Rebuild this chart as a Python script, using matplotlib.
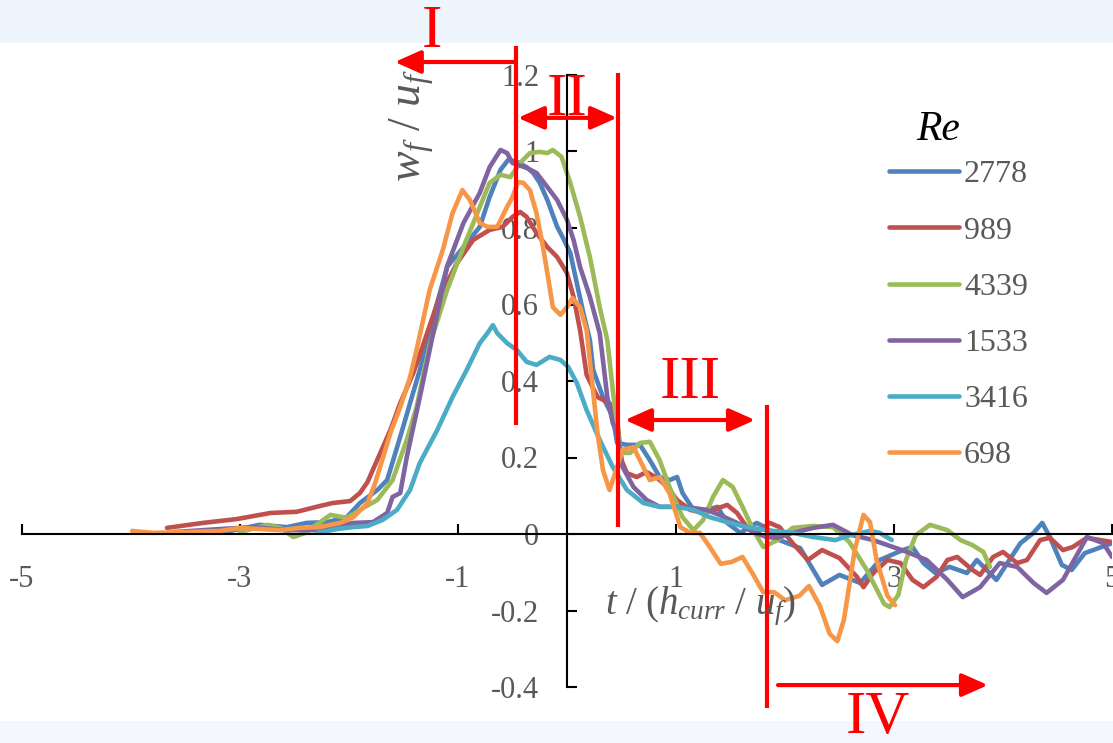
import matplotlib
matplotlib.use("Agg")
import matplotlib.pyplot as plt
from matplotlib.patches import Rectangle

plt.rcParams['font.family'] = ['Liberation Serif', 'DejaVu Serif']
plt.rcParams['mathtext.fontset'] = 'custom'
plt.rcParams['mathtext.rm'] = 'Liberation Serif'
plt.rcParams['mathtext.it'] = 'Liberation Serif:italic'
plt.rcParams['axes.unicode_minus'] = False

# Re values, in legend order
re_labels = ["2778", "989", "4339", "1533", "3416", "698"]
colors = ["#4F81BD", "#C0504D", "#9BBB59", "#8064A2", "#4BACC6", "#F79646"]

# Re = 2778
x_2778 = [-3.37, -3.09, -2.82, -2.57, -2.39, -2.20, -2.02, -1.90, -1.74, -1.65, -1.53, -1.44, -1.35, -1.26,
          -1.10, -0.95, -0.80, -0.71, -0.61, -0.54, -0.46, -0.37, -0.31, -0.25, -0.18, -0.09, -0.04, 0.03,
          0.09, 0.15, 0.21, 0.24, 0.33, 0.42, 0.46, 0.55, 0.67, 0.76, 0.85, 0.94, 1.01, 1.06, 1.16, 1.28,
          1.38, 1.47, 1.59, 1.74, 1.83, 1.95, 2.14, 2.34, 2.50, 2.69, 2.87, 3.08, 3.17, 3.27, 3.38, 3.51,
          3.67, 3.76, 3.85, 3.94, 4.04, 4.16, 4.28, 4.36, 4.43, 4.54, 4.63, 4.75, 5.0]
y_2778 = [0.003, 0.008, 0.024, 0.018, 0.029, 0.031, 0.044, 0.081, 0.115, 0.141, 0.254, 0.342, 0.429, 0.533,
          0.698, 0.750, 0.803, 0.881, 0.952, 0.978, 0.973, 0.959, 0.944, 0.918, 0.873, 0.803, 0.776, 0.735,
          0.656, 0.578, 0.507, 0.429, 0.358, 0.306, 0.238, 0.233, 0.233, 0.193, 0.149, 0.141, 0.149, 0.107,
          0.063, 0.063, 0.071, 0.029, 0.003, 0.029, 0.016, -0.016, -0.037, -0.133, -0.107, -0.128, -0.068,
          -0.042, -0.034, -0.076, -0.102, -0.086, -0.102, -0.068, -0.094, -0.120, -0.076, -0.024, 0.003,
          0.029, -0.008, -0.081, -0.094, -0.050, -0.024]

# Re = 989
x_989 = [-3.67, -3.34, -3.03, -2.72, -2.48, -2.27, -2.15, -1.99, -1.90, -1.83, -1.62, -1.53, -1.41, -1.32,
         -1.17, -1.01, -0.86, -0.71, -0.59, -0.50, -0.43, -0.37, -0.28, -0.18, -0.09, 0.00, 0.06, 0.12, 0.18,
         0.28, 0.39, 0.46, 0.50, 0.55, 0.64, 0.73, 0.83, 0.92, 1.01, 1.13, 1.25, 1.34, 1.47, 1.56, 1.65,
         1.74, 1.86, 1.95, 2.07, 2.21, 2.34, 2.50, 2.66, 2.72, 2.81, 2.94, 3.06, 3.17, 3.27, 3.39, 3.49,
         3.58, 3.72, 3.79, 3.91, 4.00, 4.13, 4.22, 4.34, 4.43, 4.55, 4.64, 4.77, 5.0]
y_989 = [0.016, 0.029, 0.039, 0.055, 0.058, 0.073, 0.081, 0.086, 0.107, 0.136, 0.272, 0.342, 0.421, 0.494,
         0.620, 0.708, 0.769, 0.795, 0.803, 0.829, 0.842, 0.829, 0.787, 0.750, 0.724, 0.682, 0.620, 0.533,
         0.416, 0.358, 0.342, 0.298, 0.193, 0.159, 0.149, 0.162, 0.146, 0.123, 0.089, 0.063, 0.055, 0.063,
         0.076, 0.055, 0.018, 0.003, 0.029, 0.018, -0.024, -0.068, -0.042, -0.063, -0.112, -0.139, -0.102,
         -0.068, -0.076, -0.120, -0.139, -0.112, -0.068, -0.060, -0.094, -0.107, -0.060, -0.047, -0.076,
         -0.068, -0.016, -0.010, -0.042, -0.034, -0.010, -0.021]

# Re = 4339
x_4339 = [-3.00, -2.75, -2.63, -2.51, -2.40, -2.33, -2.17, -2.02, -1.90, -1.74, -1.60, -1.47, -1.38, -1.26,
          -1.10, -0.95, -0.80, -0.71, -0.61, -0.52, -0.43, -0.34, -0.25, -0.18, -0.13, -0.05, 0.03, 0.12,
          0.21, 0.30, 0.37, 0.42, 0.49, 0.58, 0.67, 0.76, 0.85, 0.94, 1.06, 1.16, 1.25, 1.34, 1.43, 1.52,
          1.61, 1.71, 1.80, 1.93, 2.07, 2.26, 2.44, 2.59, 2.75, 2.91, 2.96, 3.04, 3.11, 3.20, 3.33, 3.49,
          3.61, 3.72, 3.82, 3.88]
y_4339 = [0.005, 0.024, 0.016, -0.008, 0.003, 0.018, 0.050, 0.042, 0.063, 0.089, 0.141, 0.246, 0.332, 0.494,
          0.638, 0.750, 0.855, 0.918, 0.939, 0.933, 0.970, 0.996, 0.999, 0.996, 1.004, 0.986, 0.918, 0.829,
          0.724, 0.593, 0.507, 0.376, 0.212, 0.212, 0.238, 0.241, 0.193, 0.123, 0.044, 0.010, 0.037, 0.097,
          0.141, 0.123, 0.071, 0.010, -0.034, -0.016, 0.016, 0.021, 0.018, -0.021, -0.094, -0.183, -0.191,
          -0.159, -0.068, -0.003, 0.024, 0.010, -0.016, -0.029, -0.047, -0.086]

# Re = 1533
x_1533 = [-3.61, -3.18, -2.88, -2.57, -2.27, -1.96, -1.78, -1.65, -1.60, -1.53, -1.47, -1.35, -1.26, -1.10,
          -0.95, -0.80, -0.71, -0.61, -0.55, -0.50, -0.37, -0.28, -0.18, -0.09, 0.00, 0.06, 0.12, 0.21, 0.30,
          0.37, 0.42, 0.46, 0.51, 0.61, 0.73, 0.85, 1.01, 1.16, 1.28, 1.40, 1.56, 1.71, 1.83, 1.93, 2.07,
          2.26, 2.44, 2.62, 2.81, 3.12, 3.30, 3.49, 3.63, 3.79, 3.97, 4.13, 4.28, 4.40, 4.55, 4.77, 4.92, 5.0]
y_1533 = [0.005, 0.013, 0.018, 0.010, 0.010, 0.029, 0.031, 0.055, 0.097, 0.107, 0.201, 0.358, 0.481, 0.700,
          0.813, 0.892, 0.959, 1.004, 0.996, 0.970, 0.957, 0.944, 0.907, 0.873, 0.821, 0.769, 0.698, 0.620,
          0.525, 0.358, 0.290, 0.264, 0.175, 0.123, 0.089, 0.071, 0.071, 0.068, 0.063, 0.050, 0.029, 0.005,
          -0.008, -0.010, 0.003, 0.016, 0.024, -0.003, -0.016, -0.047, -0.068, -0.120, -0.165, -0.139,
          -0.076, -0.086, -0.128, -0.154, -0.120, -0.008, -0.024, -0.060]

# Re = 3416
x_3416 = [-2.29, -2.11, -1.96, -1.83, -1.69, -1.56, -1.44, -1.35, -1.19, -1.05, -0.92, -0.80, -0.73, -0.68,
          -0.64, -0.55, -0.46, -0.37, -0.28, -0.16, -0.06, 0.01, 0.09, 0.18, 0.30, 0.42, 0.55, 0.70, 0.85,
          1.01, 1.16, 1.31, 1.47, 1.65, 1.83, 2.07, 2.26, 2.46, 2.60, 2.78, 2.87, 2.98]
y_3416 = [0.003, 0.013, 0.018, 0.021, 0.037, 0.063, 0.115, 0.186, 0.272, 0.358, 0.429, 0.499, 0.525, 0.546,
          0.525, 0.499, 0.481, 0.450, 0.442, 0.463, 0.455, 0.437, 0.395, 0.324, 0.246, 0.175, 0.115, 0.081,
          0.071, 0.071, 0.063, 0.044, 0.031, 0.018, 0.010, 0.003, -0.008, -0.016, -0.003, 0.008, 0.003, -0.016]

# Re = 698
x_698 = [-3.99, -3.80, -3.49, -3.18, -3.00, -2.82, -2.63, -2.45, -2.27, -2.08, -1.96, -1.83, -1.76, -1.62,
         -1.53, -1.44, -1.38, -1.26, -1.14, -1.05, -0.96, -0.89, -0.80, -0.73, -0.64, -0.55, -0.50, -0.45,
         -0.40, -0.34, -0.28, -0.22, -0.17, -0.13, -0.06, 0.00, 0.05, 0.12, 0.18, 0.28, 0.33, 0.39, 0.46,
         0.51, 0.61, 0.70, 0.76, 0.85, 0.94, 1.04, 1.13, 1.22, 1.31, 1.41, 1.51, 1.61, 1.71, 1.80, 1.90,
         2.00, 2.13, 2.22, 2.32, 2.41, 2.48, 2.54, 2.64, 2.72, 2.78, 2.84, 2.94, 3.01]
y_698 = [0.008, 0.003, 0.005, 0.008, 0.016, 0.013, 0.010, 0.016, 0.018, 0.029, 0.044, 0.081, 0.133, 0.264,
         0.332, 0.410, 0.481, 0.638, 0.742, 0.839, 0.899, 0.873, 0.813, 0.803, 0.803, 0.855, 0.881, 0.920,
         0.918, 0.899, 0.839, 0.750, 0.664, 0.593, 0.573, 0.593, 0.617, 0.593, 0.533, 0.264, 0.167, 0.115,
         0.175, 0.220, 0.227, 0.175, 0.141, 0.149, 0.107, 0.018, 0.003, 0.003, -0.034, -0.078, -0.073,
         -0.060, -0.107, -0.152, -0.152, -0.173, -0.162, -0.136, -0.188, -0.261, -0.280, -0.225, -0.042,
         0.050, 0.031, -0.068, -0.162, -0.186]

series_x = [x_2778, x_989, x_4339, x_1533, x_3416, x_698]
series_y = [y_2778, y_989, y_4339, y_1533, y_3416, y_698]

x_ticks = [-5, -3, -1, 1, 3, 5]
y_ticks = [-0.4, -0.2, 0, 0.2, 0.4, 0.6, 0.8, 1, 1.2]
y_ticklabels = ["-0.4", "-0.2", "0", "0.2", "0.4", "0.6", "0.8", "1", "1.2"]

fig = plt.figure(figsize=(11.13, 7.43), dpi=100)
fig.patches.append(Rectangle((0, 1 - 43 / 743), 1, 43 / 743, transform=fig.transFigure,
                             facecolor="#EEF5FD", edgecolor="none", zorder=-10))
fig.patches.append(Rectangle((0, 0), 1, 22 / 743, transform=fig.transFigure,
                             facecolor="#F4F8FE", edgecolor="none", zorder=-10))
ax = fig.add_axes([22 / 1113, 56 / 743, 1090 / 1113, 612 / 743])
ax.set_facecolor("none")

for xs, ys, c, lab in zip(series_x, series_y, colors, re_labels):
    ax.plot(xs, ys, color=c, lw=3.3, label=lab, solid_joinstyle="round", solid_capstyle="round")

ax.set_xlim(-5, 5)
ax.set_ylim(-0.4, 1.2)
for s in ["top", "right"]:
    ax.spines[s].set_visible(False)
ax.spines["left"].set_position(("data", 0))
ax.spines["bottom"].set_position(("data", 0))
for s in ["left", "bottom"]:
    ax.spines[s].set_linewidth(1.5)
ax.set_xticks(x_ticks)
ax.set_yticks(y_ticks)
ax.set_yticklabels(y_ticklabels)
ax.tick_params(axis="both", direction="in", length=7, width=1.5, labelsize=22,
               labelcolor="#595959", pad=20)
ax.tick_params(axis="x", pad=22)

# axis titles
ax.text(0.35, -0.19, r"$t\ /\ (h_{curr}\ /\ u_f)$", fontsize=28, color="#595959",
        ha="left", va="center")
ax.text(-1.42, 1.067, r"$w_f\ /\ u_f$", fontsize=33, color="#595959", rotation=90,
        ha="center", va="center")

# legend
fig.text(938 / 1113, 1 - 130 / 743, "Re", fontsize=30, style="italic", color="black",
         ha="center", va="center")
ax.legend(loc="upper left", bbox_to_anchor=(889 / 1113, 1 - 160 / 743), bbox_transform=fig.transFigure,
          frameon=False, fontsize=23, labelcolor="#595959", handlelength=2.2, handletextpad=0.15,
          labelspacing=0.84, borderpad=0, borderaxespad=0)

# region markers
red = "#FF0000"
lk = dict(color=red, lw=3, clip_on=False, solid_capstyle="butt")
ax.plot([-0.468, -0.468], [1.275, 0.285], **lk)
ax.plot([0.468, 0.468], [1.205, 0.018], **lk)
ax.plot([1.835, 1.835], [0.337, -0.455], **lk)

ap1 = dict(arrowstyle="-|>,head_length=0.45,head_width=0.2", color=red, lw=3,
           mutation_scale=35, shrinkA=0, shrinkB=0)
ap2 = dict(arrowstyle="<|-|>,head_length=0.45,head_width=0.2", color=red, lw=3,
           mutation_scale=35, shrinkA=0, shrinkB=0)
ax.annotate("", xy=(-1.58, 1.234), xytext=(-0.468, 1.234), arrowprops=ap1, annotation_clip=False)
ax.annotate("", xy=(-0.45, 1.088), xytext=(0.459, 1.088), arrowprops=ap2, annotation_clip=False)
ax.annotate("", xy=(0.532, 0.298), xytext=(1.725, 0.298), arrowprops=ap2, annotation_clip=False)
ax.annotate("", xy=(3.862, -0.395), xytext=(1.936, -0.395), arrowprops=ap1, annotation_clip=False)

tk = dict(color=red, fontsize=44, ha="center", va="center", clip_on=False)
ax.text(-1.24, 1.312, "I", **tk)
ax.text(0.0, 1.135, "II", **tk)
ax.text(1.13, 0.395, "III", **tk)
ax.text(2.853, -0.481, "IV", **tk)

fig.savefig("out.png", dpi=100)
